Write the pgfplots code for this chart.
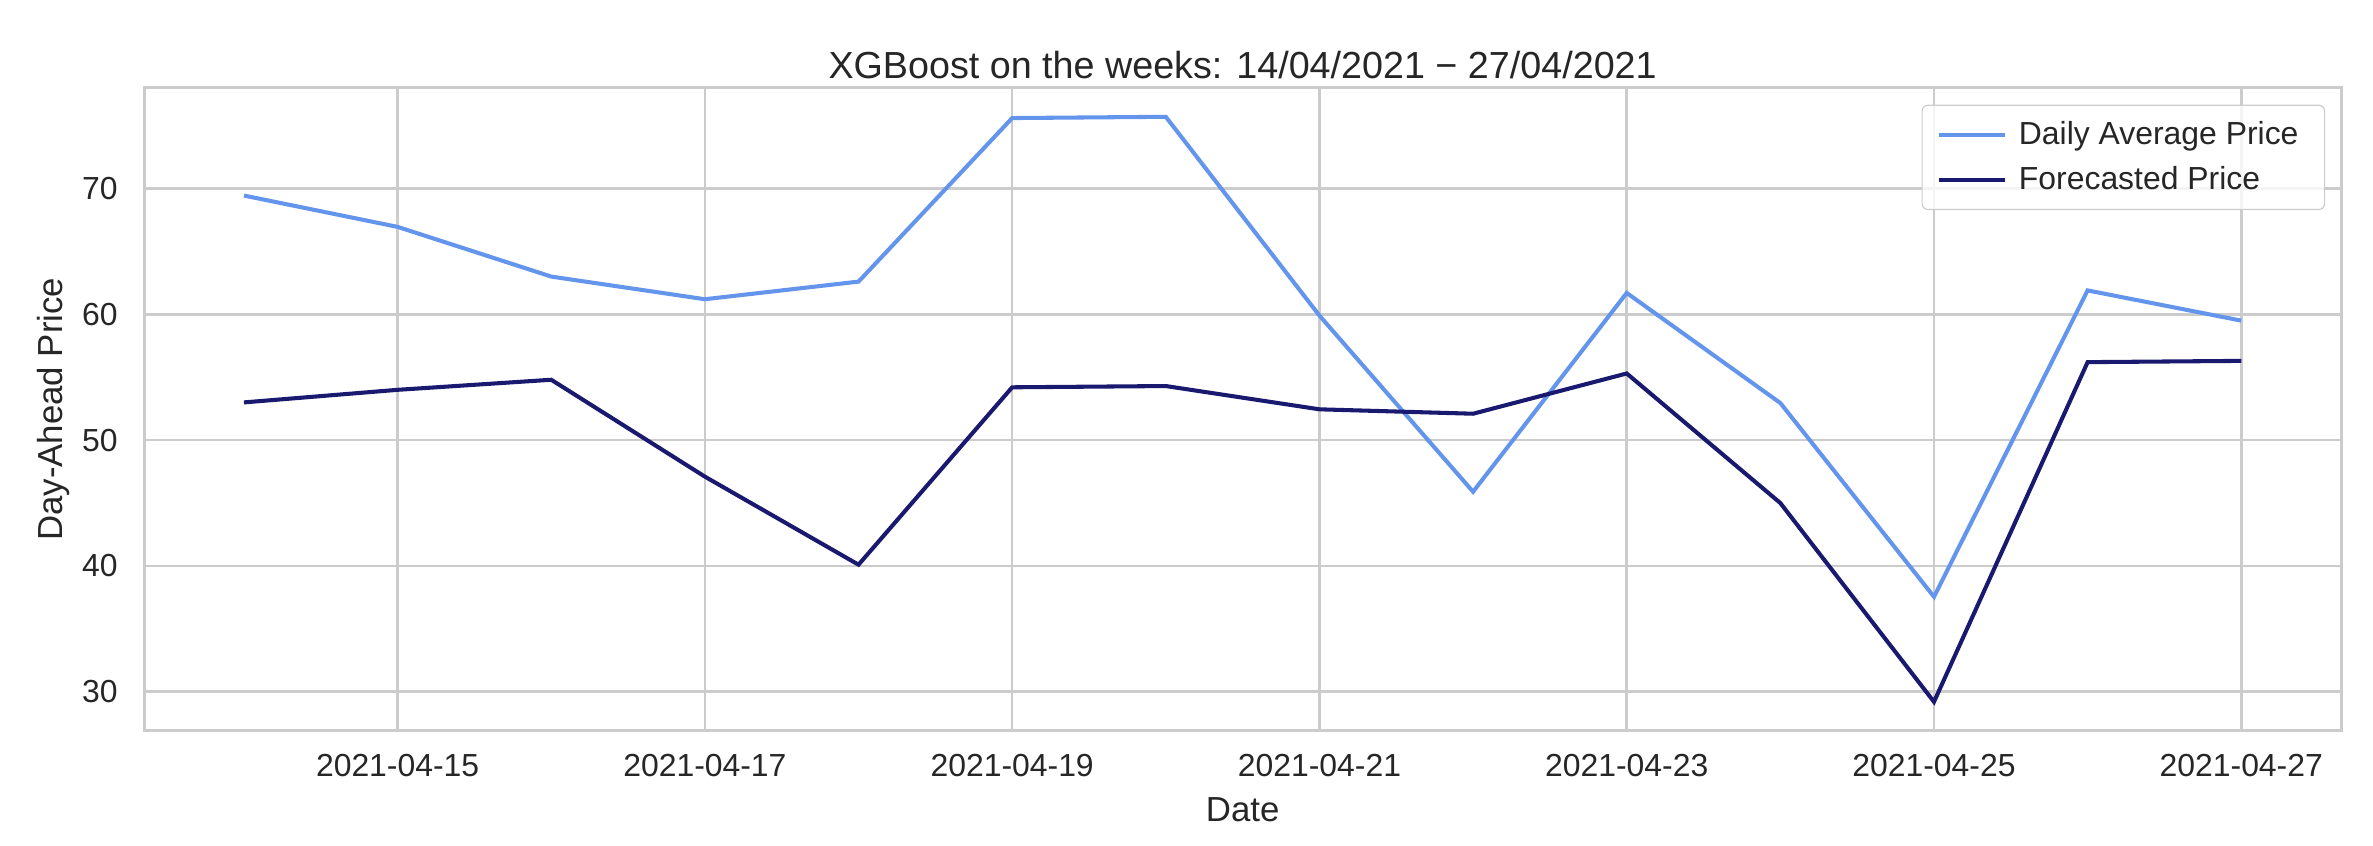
\documentclass[border=0pt]{standalone}
\usepackage{fontspec}
\setmainfont{Liberation Sans}
\usepackage{pgfplots}
\pgfplotsset{compat=1.18}
\definecolor{cfblue}{RGB}{100,149,237}
\definecolor{mnblue}{RGB}{25,25,112}
\definecolor{gridgray}{RGB}{204,204,204}
\definecolor{txt}{RGB}{38,38,38}

\begin{document}
\begin{tikzpicture}
% fix the page to the reference's proportions
\path[use as bounding box] (-49.7pt,-39.7pt) rectangle (768.6pt,252pt);
\begin{axis}[
  scale only axis,
  width=757.6pt, height=221.7pt,
  xmin=13.35, xmax=27.65, ymin=26.9, ymax=78.0,
  xtick={15,17,19,21,23,25,27},
  xticklabels={2021-04-15,2021-04-17,2021-04-19,2021-04-21,2021-04-23,2021-04-25,2021-04-27},
  ytick={30,40,50,60,70},
  /pgf/number format/assume math mode=true,
  major tick length=0pt,
  grid=major,
  major grid style={gridgray, line width=0.9pt},
  axis line style={gridgray, line width=1pt},
  tick label style={font=\fontsize{11}{13}\selectfont, text=txt},
  xticklabel style={yshift=-4.6pt},
  yticklabel style={xshift=-5.6pt},
  xlabel={Date}, ylabel={Day-Ahead Price},
  every axis x label/.style={at={(axis description cs:0.5,0)}, anchor=center, yshift=-27.2pt,
    font=\fontsize{12}{14}\selectfont, text=txt},
  every axis y label/.style={at={(axis description cs:-0.0414,0.5)}, anchor=center, rotate=90,
    font=\fontsize{12}{14}\selectfont, text=txt},
  title={XGBoost on the weeks: 14/04/2021 − 27/04/2021},
  every axis title/.style={at={(0.5,1)}, anchor=center, yshift=7.9pt,
    font=\fontsize{13}{15}\selectfont, text=txt},
  legend cell align=left,
  legend image code/.code={\draw[#1] (0pt,0pt) -- (23pt,0pt);},
  legend style={at={(1,1)}, anchor=north east, xshift=-5.5pt, yshift=-5.8pt,
    draw=gridgray, rounded corners=2pt, fill=white, fill opacity=0.8, text opacity=1,
    font=\fontsize{11}{13}\selectfont, text=txt, row sep=2pt, inner xsep=5pt, inner ysep=3.5pt,
    nodes={inner xsep=4pt}},
]
\addplot[cfblue, line width=1.4pt] coordinates {
  (14,69.44)(15,66.95)(16,63.0)(17,61.2)(18,62.6)(19,75.6)(20,75.7)
  (21,59.9)(22,45.9)(23,61.7)(24,52.95)(25,37.55)(26,61.9)(27,59.5)};
\addlegendentry{Daily Average Price}
\addplot[mnblue, line width=1.4pt] coordinates {
  (14,53.0)(15,54.0)(16,54.8)(17,47.1)(18,40.1)(19,54.2)(20,54.3)
  (21,52.45)(22,52.1)(23,55.3)(24,45.0)(25,29.2)(26,56.2)(27,56.3)};
\addlegendentry{Forecasted Price}
\end{axis}
\end{tikzpicture}
\end{document}
